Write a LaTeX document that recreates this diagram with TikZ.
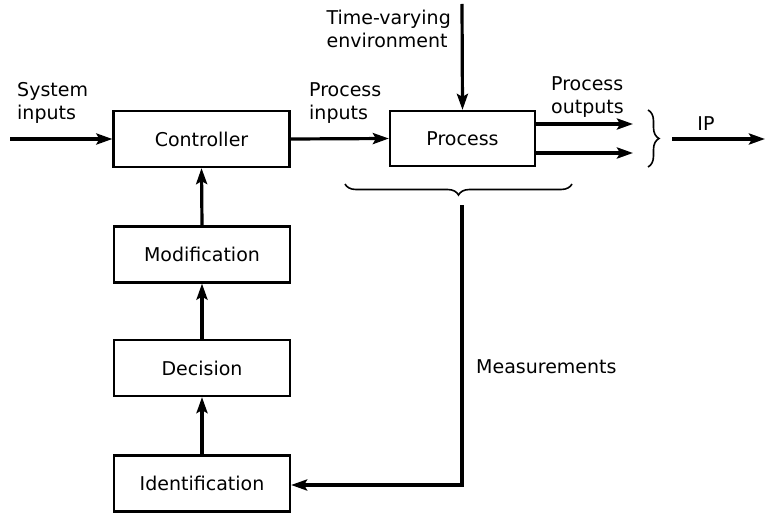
\documentclass[tikz,border=0pt]{standalone}
\usepackage{fontspec}
\setmainfont{DejaVu Sans}
\usetikzlibrary{arrows.meta,decorations.pathreplacing}
\begin{document}
\begin{tikzpicture}[x=1pt,y=-1pt,
  blk/.style={draw,line width=2.2pt,minimum width=176pt,minimum height=56pt,inner sep=0pt,font=\fontsize{19}{22}\selectfont},
  lbl/.style={align=left,inner sep=0pt,font=\fontsize{19}{23}\selectfont},
  arr/.style={line width=3.2pt,-{Stealth[length=16pt,width=11pt,inset=3pt]}},
  brc/.style={line width=1.6pt,decorate,decoration={brace,amplitude=11pt}}]
\useasboundingbox (0,0) rectangle (765,513);
\node[blk] (ctrl) at (201.5,139) {Controller};
\node[blk,minimum width=145pt,minimum height=55pt] (proc) at (462.5,138.5) {Process};
\node[blk] (mod) at (202,254.5) {Modification};
\node[blk] (dec) at (202,368) {Decision};
\node[blk] (ident) at (202,483.5) {Identification};
\coordinate (sysin) at (10,139);
\coordinate (envtop) at (462,4);
\coordinate (o1) at (633,124);
\coordinate (o2) at (633,153);
\coordinate (ipstart) at (672,139);
\coordinate (ipend) at (765,139);
\coordinate (bl) at (345,184);
\coordinate (br) at (572,184);
\coordinate (mtop) at (462,205);
\coordinate (mcorner) at (462,485);
\coordinate (rt) at (648,110);
\coordinate (rb) at (648,167);
\node[lbl,anchor=north west] (tsys) at (17,82) {System\\inputs};
\node[lbl,anchor=north west] (tpin) at (309,82) {Process\\inputs};
\node[lbl,anchor=north east] (tenv) at (451,10) {Time-varying\\environment};
\node[lbl,anchor=north west] (tpout) at (551,76) {Process\\outputs};
\node[lbl,anchor=south] (tip) at (706,131) {IP};
\node[lbl,anchor=west] (tmeas) at (476,367) {Measurements};
\draw[arr] (sysin) -- (ctrl.west);
\draw[arr] (ctrl.east) -- (proc.west);
\draw[arr] (envtop) -- (proc.north);
\draw[arr] (proc.east |- o1) -- (o1);
\draw[arr] (proc.east |- o2) -- (o2);
\draw[arr] (ipstart) -- (ipend);
\draw[arr] (ident.north) -- (dec.south);
\draw[arr] (dec.north) -- (mod.south);
\draw[arr] (mod.north) -- (ctrl.south);
\draw[brc] (rt) -- (rb);
\draw[brc,decoration={mirror}] (bl) -- (br);
\draw[arr] (mtop) -- (mcorner) -- (ident.east |- mcorner);
\end{tikzpicture}
\end{document}
